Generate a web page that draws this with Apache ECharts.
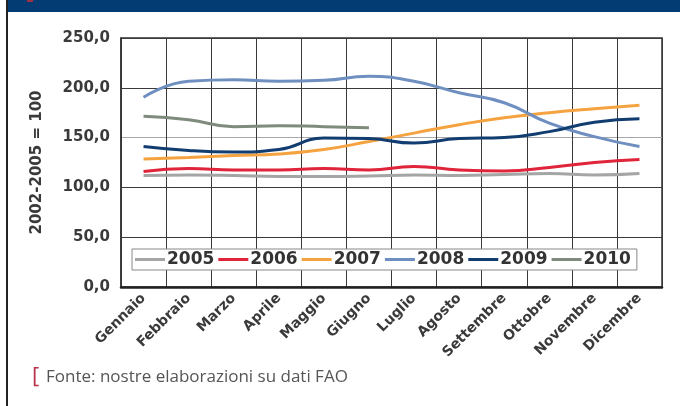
<!DOCTYPE html>
<html lang="it">
<head>
    <meta charset="UTF-8">
    <title>Indice FAO</title>
    <style>
        html, body { margin: 0; padding: 0; background: #fff; }
        #main { width: 680px; height: 406px; }
    </style>
</head>
<body>
<div id="main"></div>
<script src="https://cdn.jsdelivr.net/npm/echarts@6/dist/echarts.min.js"></script>
<script>
    // mesi sull'asse x
    var mesi = ['Gennaio', 'Febbraio', 'Marzo', 'Aprile', 'Maggio', 'Giugno',
        'Luglio', 'Agosto', 'Settembre', 'Ottobre', 'Novembre', 'Dicembre'];
    var anni = ['2005', '2006', '2007', '2008', '2009', '2010'];
    var yTicks = [0, 50, 100, 150, 200, 250];

    // valori indice (2002-2005 = 100)
    var v2005 = [112, 112.5, 112, 111, 111, 111.5, 112.5, 112, 113, 114, 112.5, 114];
    var v2006 = [116, 119, 117.5, 117.5, 119, 117.5, 121, 117.5, 116.5, 120, 125, 128];
    var v2007 = [128.5, 130, 132, 133.5, 138, 146, 154.5, 163, 170, 175, 179, 182.5];
    var v2008 = [190.5, 206.5, 208, 206.5, 207.5, 211.5, 206.5, 195, 185, 164.5, 151, 141];
    var v2009 = [141, 137, 135.5, 138, 149.5, 149, 144.5, 149, 150, 156, 165.5, 169];
    var v2010 = [171.5, 168, 161, 162, 161, 160];

    var colori = ['#a3a6a4', '#e0243a', '#f5a340', '#6f8fc0', '#123d70', '#7f8b7c'];
    var valori = [v2005, v2006, v2007, v2008, v2009, v2010];

    var serie = [];
    for (var i = 0; i < anni.length; i++) {
        serie.push({
            name: anni[i],
            type: 'line',
            smooth: true,
            symbol: 'none',
            data: valori[i],
            lineStyle: { width: 3, color: colori[i] },
            itemStyle: { color: colori[i] }
        });
    }

    // linee orizzontali: quella a 150 è grigia
    var coloriGriglia = yTicks.map(function (t) { return t === 150 ? '#a8a8a8' : '#3a3a3a'; });

    var myChart = echarts.init(document.getElementById('main'));
    myChart.setOption({
        animation: false,
        backgroundColor: '#fff',
        color: colori,
        grid: {
            left: 121, right: 18, top: 38, bottom: 119,
            show: true, borderColor: '#333', borderWidth: 1.5
        },
        legend: {
            data: anni,
            left: 132, top: 249,
            width: 510,
            backgroundColor: '#fff',
            borderColor: '#888',
            borderWidth: 1,
            padding: [2, 6, 2, 3],
            itemGap: 4,
            itemWidth: 30,
            itemHeight: 3,
            icon: 'rect',
            textStyle: { color: '#333', fontWeight: 'bold', fontSize: 17, fontFamily: 'DejaVu Sans', padding: [0, 0, 0, -3] }
        },
        xAxis: {
            type: 'category',
            data: mesi,
            boundaryGap: true,
            axisLine: { lineStyle: { color: '#222', width: 2.5 } },
            axisTick: { show: false },
            axisLabel: {
                interval: 0, rotate: 45, margin: 9,
                color: '#3a3a3a', fontWeight: 'bold', fontSize: 14, fontFamily: 'DejaVu Sans'
            },
            splitLine: { show: true, interval: 0, lineStyle: { color: '#3a3a3a', width: 1 } }
        },
        yAxis: {
            type: 'value',
            min: 0, max: 250, interval: 50,
            name: '2002-2005 = 100',
            nameLocation: 'middle',
            nameGap: 76,
            nameRotate: 90,
            nameTextStyle: { color: '#3a3a3a', fontWeight: 'bold', fontSize: 15, fontFamily: 'DejaVu Sans' },
            axisLine: { show: true, lineStyle: { color: '#333', width: 1.5 } },
            axisTick: { show: false },
            axisLabel: {
                margin: 11, color: '#3a3a3a', fontWeight: 'bold', fontSize: 15, fontFamily: 'DejaVu Sans',
                formatter: function (v) { return v.toFixed(1).replace('.', ','); }
            },
            splitLine: { lineStyle: { color: coloriGriglia, width: 1 } }
        },
        graphic: [
            { type: 'rect', shape: { x: 7, y: 0, width: 673, height: 12 }, style: { fill: '#023c73' } },
            { type: 'rect', shape: { x: 27, y: 0, width: 6, height: 2 }, style: { fill: '#a0304a' } },
            { type: 'rect', shape: { x: 6, y: 0, width: 2, height: 406 }, style: { fill: '#222' } },
            { type: 'text', left: 32, top: 366, style: { text: '[', fill: '#b8324a', font: '22px "Open Sans"' } },
            { type: 'text', left: 46, top: 369, style: { text: 'Fonte: nostre elaborazioni su dati FAO', fill: '#555', font: '17px "Open Sans"' } }
        ],
        series: serie
    });
</script>
</body>
</html>
